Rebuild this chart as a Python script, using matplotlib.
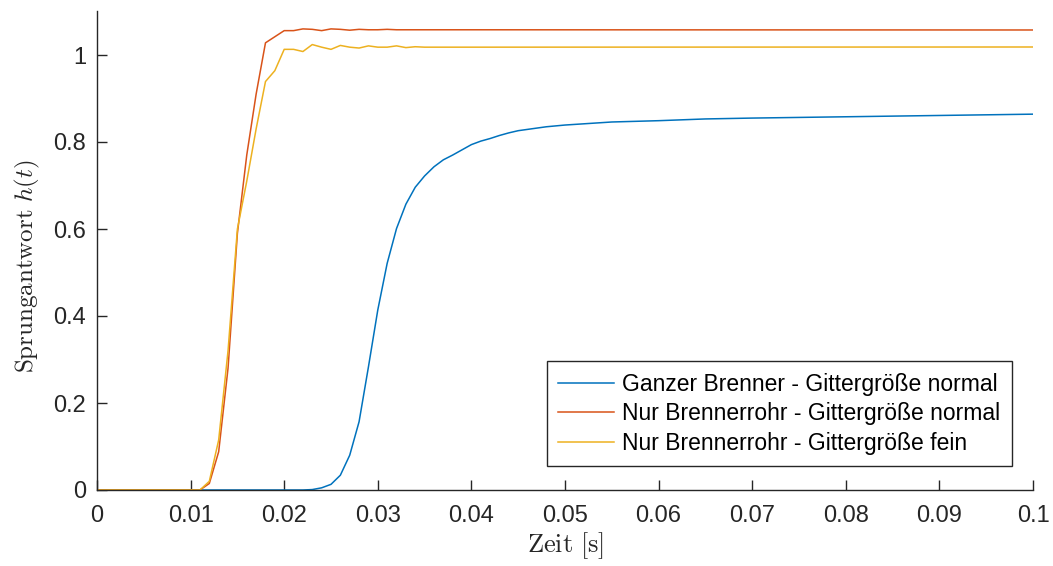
import matplotlib
matplotlib.use("Agg")
import matplotlib.pyplot as plt

# ---- data ----
t_blue = [0.0, 0.022, 0.023, 0.024, 0.025, 0.026, 0.027, 0.028, 0.029, 0.030, 0.031,
          0.032, 0.033, 0.034, 0.035, 0.036, 0.037, 0.038, 0.039, 0.040, 0.041, 0.042,
          0.043, 0.044, 0.045, 0.046, 0.047, 0.048, 0.049, 0.050, 0.055, 0.060, 0.065,
          0.070, 0.080, 0.090, 0.100]
h_blue = [0.0, 0.0, 0.001, 0.005, 0.013, 0.034, 0.080, 0.157, 0.283, 0.414, 0.521,
          0.601, 0.657, 0.696, 0.722, 0.743, 0.759, 0.770, 0.782, 0.794, 0.802, 0.808,
          0.815, 0.821, 0.826, 0.829, 0.832, 0.835, 0.837, 0.839, 0.846, 0.849, 0.853,
          0.855, 0.858, 0.861, 0.864]

t_rohr = [0.0, 0.011, 0.012, 0.013, 0.014, 0.015, 0.016, 0.017, 0.018, 0.019, 0.020,
          0.021, 0.022, 0.023, 0.024, 0.025, 0.026, 0.027, 0.028, 0.029, 0.030, 0.031,
          0.032, 0.033, 0.034, 0.035, 0.040, 0.100]
h_red = [0.0, 0.0, 0.015, 0.088, 0.28, 0.59, 0.77, 0.91, 1.028, 1.042, 1.056,
         1.056, 1.060, 1.059, 1.056, 1.060, 1.059, 1.057, 1.059, 1.058, 1.058, 1.059,
         1.058, 1.058, 1.058, 1.058, 1.058, 1.0575]
h_yellow = [0.0, 0.0, 0.02, 0.115, 0.32, 0.60, 0.71, 0.83, 0.939, 0.964, 1.013,
            1.013, 1.008, 1.024, 1.018, 1.013, 1.022, 1.018, 1.016, 1.021, 1.018, 1.018,
            1.021, 1.017, 1.019, 1.018, 1.018, 1.0184]

labels = ["Ganzer Brenner - Gittergröße normal",
          "Nur Brennerrohr - Gittergröße normal",
          "Nur Brennerrohr - Gittergröße fein"]
colors = ["#0072BD", "#D95319", "#EDB120"]

x_ticks = [0, 0.01, 0.02, 0.03, 0.04, 0.05, 0.06, 0.07, 0.08, 0.09, 0.1]
x_ticklabels = ["0", "0.01", "0.02", "0.03", "0.04", "0.05", "0.06", "0.07", "0.08", "0.09", "0.1"]
y_ticks = [0, 0.2, 0.4, 0.6, 0.8, 1.0]
y_ticklabels = ["0", "0.2", "0.4", "0.6", "0.8", "1"]

# ---- plot ----
plt.rcParams['font.family'] = ['Liberation Sans', 'DejaVu Sans']
plt.rcParams['mathtext.fontset'] = 'cm'

fig = plt.figure(figsize=(10.53, 5.66), dpi=100)
ax = fig.add_axes([97/1053, 1 - 490/566, 936/1053, 478.5/566])

ax.plot(t_blue, h_blue, color=colors[0], lw=1.1, label=labels[0])
ax.plot(t_rohr, h_red, color=colors[1], lw=1.1, label=labels[1])
ax.plot(t_rohr, h_yellow, color=colors[2], lw=1.1, label=labels[2])

ax.set_xlim(0, 0.1)
ax.set_ylim(0, 1.1)
ax.set_xticks(x_ticks)
ax.set_xticklabels(x_ticklabels)
ax.set_yticks(y_ticks)
ax.set_yticklabels(y_ticklabels)

dark = "#262626"
for s in ['top', 'right']:
    ax.spines[s].set_visible(False)
for s in ['left', 'bottom']:
    ax.spines[s].set_color(dark)
    ax.spines[s].set_linewidth(1.0)
ax.tick_params(direction='in', length=7, width=1.0, colors=dark, labelsize=17)
ax.tick_params(axis='x', pad=11)
ax.tick_params(axis='y', pad=8)

ax.set_xlabel(r"$\mathrm{Zeit}\ [\mathrm{s}]$", fontsize=19, color=dark, labelpad=2)
ax.set_ylabel(r"$\mathrm{Sprungantwort}\ h(t)$", fontsize=18, color=dark)
ax.yaxis.set_label_coords(-0.059, 0.467)

leg = ax.legend(loc='lower right', bbox_to_anchor=(0.9776, 0.050), borderaxespad=0,
                fontsize=16.5, fancybox=False, framealpha=1, edgecolor=dark,
                handlelength=2.45, handletextpad=0.35, labelspacing=0.28,
                borderpad=0.5)
leg.get_frame().set_linewidth(1.0)

fig.savefig("out.png", dpi=100)
